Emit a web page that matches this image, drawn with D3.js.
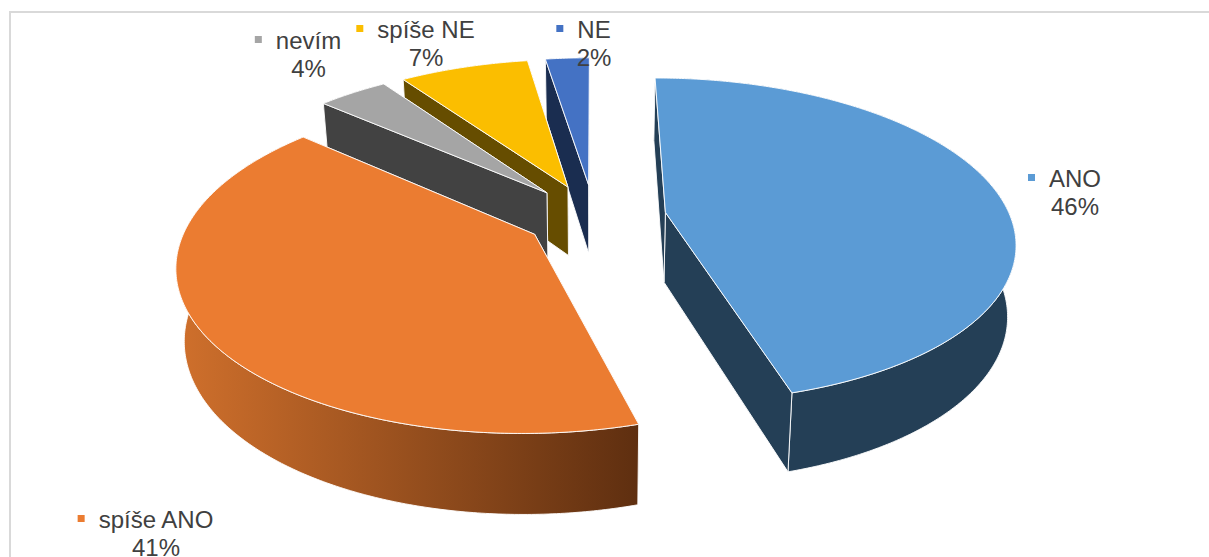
<!DOCTYPE html>
<html>
<head>
  <meta charset="utf-8">
  <title>Exploded 3D pie</title>
  <script src="https://d3js.org/d3.v7.min.js"></script>
  <style>
    html, body { margin: 0; padding: 0; background: #fff; }
    svg { display: block; }
    text { font-family: "Liberation Sans", Arial, sans-serif; font-size: 24px; fill: #404040; text-anchor: middle; }
  </style>
</head>
<body>
  <svg width="1209" height="557"></svg>
  <script>
    // Data
    const categories = ["ANO", "spíše ANO", "nevím", "spíše NE", "NE"];
    const shares = [45.5, 40.8, 3.9, 7.2, 2.45];

    // Colours per category
    const topColors = ["#5B9BD5", "#EB7C31", "#A5A5A5", "#FBBE00", "#4472C4"];
    const sideColors = ["#243F56", "#6B3512", "#424242", "#664D00", "#1A2D50"];

    // How far each slice is pulled out, as a part of the radius
    const explodes = [0.21, 0.2, 0.21, 0.21, 0.21];

    // Label anchor: centre x of the text and baseline of first line
    const labelX = [1075, 156, 308.5, 426, 594];
    const labelY = [187, 528, 49, 38, 38];

    const width = 1209, height = 557;
    const cx = 594, cy = 217;
    const radius = 345, tilt = 0.46, persp = 0.17, depth = 70;

    const svg = d3.select("svg");

    // Chart frame, only the top and left border show
    svg.append("path")
      .attr("d", d3.line()([[10, height], [10, 12], [width, 12]]))
      .attr("fill", "none")
      .attr("stroke", "#D9D9D9")
      .attr("stroke-width", 2);

    // Orange side wall is shaded from left to right
    const grad = svg.append("defs").append("linearGradient")
      .attr("id", "wallOrange")
      .attr("gradientUnits", "userSpaceOnUse")
      .attr("x1", 177).attr("x2", 637).attr("y1", 0).attr("y2", 0);
    grad.append("stop").attr("offset", 0).attr("stop-color", "#D0702C");
    grad.append("stop").attr("offset", 1).attr("stop-color", "#5F2F10");

    // Plane coordinates (u right, v away from the viewer) to screen, with perspective
    function project(u, v, low) {
      const s = 1 / (1 + persp * v);
      const x = cx + radius * u * s;
      const y = cy - radius * tilt * v * s;
      if (!low) return [x, y];
      return [cx + (x - cx) * 0.98, y + depth * Math.pow(s, 0.7)];
    }

    const pie = d3.pie().sort(null).value(d => d);
    const arcs = pie(shares);
    const line = d3.line();
    const total = d3.sum(shares);
    const pct = d3.format(".0%");

    // Back slices first, the two big ones go over them
    const order = [4, 3, 2, 0, 1];

    order.forEach(i => {
      const a = arcs[i];
      const mid = (a.startAngle + a.endAngle) / 2;
      const ou = explodes[i] * Math.sin(mid);
      const ov = explodes[i] * Math.cos(mid);
      const angles = d3.range(a.startAngle, a.endAngle, 0.01).concat([a.endAngle]);
      const rimTop = angles.map(t => project(ou + Math.sin(t), ov + Math.cos(t), false));
      const rimLow = angles.map(t => project(ou + Math.sin(t), ov + Math.cos(t), true));
      const apexTop = project(ou, ov, false);
      const apexLow = project(ou, ov, true);
      const last = rimTop.length - 1;

      const g = svg.append("g")
        .attr("stroke", "#fff")
        .attr("stroke-width", 0.9)
        .attr("stroke-linejoin", "round");

      function drawWall() {
        g.append("path")
          .attr("d", line(rimTop.concat(rimLow.slice().reverse())) + "Z")
          .attr("fill", i === 1 ? "url(#wallOrange)" : sideColors[i]);
      }

      // a wall facing away sits behind the radial faces, a front one over them
      if (ov > 0) drawWall();
      g.append("path")
        .attr("d", line([apexTop, rimTop[last], rimLow[last], apexLow]) + "Z")
        .attr("fill", sideColors[i]);
      g.append("path")
        .attr("d", line([apexTop, rimTop[0], rimLow[0], apexLow]) + "Z")
        .attr("fill", sideColors[i]);
      if (ov <= 0) drawWall();

      // top
      g.append("path")
        .attr("d", line([apexTop].concat(rimTop)) + "Z")
        .attr("fill", topColors[i]);
    });

    // Data labels with legend keys
    categories.forEach((name, i) => {
      const g = svg.append("g");
      const t = g.append("text")
        .attr("x", labelX[i])
        .attr("y", labelY[i])
        .text(name);
      g.append("text")
        .attr("x", labelX[i])
        .attr("y", labelY[i] + 28)
        .text(pct(shares[i] / total));
      const w = t.node().getComputedTextLength();
      g.append("rect")
        .attr("x", labelX[i] - w / 2 - 21)
        .attr("y", labelY[i] - 13)
        .attr("width", 7)
        .attr("height", 7)
        .attr("fill", topColors[i]);
    });
  </script>
</body>
</html>
